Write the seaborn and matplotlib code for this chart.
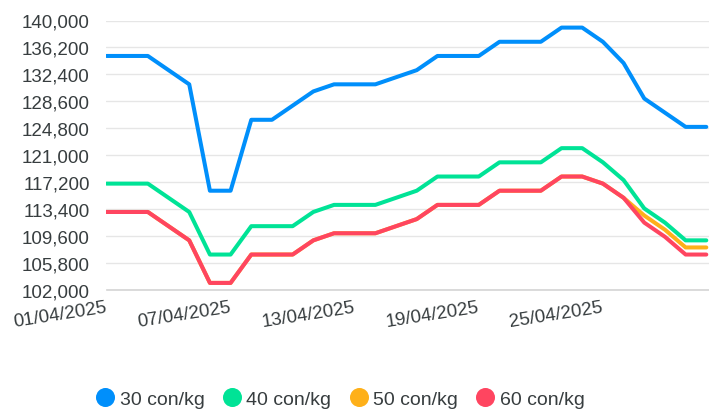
import numpy as np
import pandas as pd
import matplotlib
matplotlib.use("Agg")
import matplotlib.pyplot as plt
from matplotlib.lines import Line2D
import seaborn as sns

# ---------------- data ----------------
dates = [f"{d:02d}/04/2025" for d in range(1, 31)]

s30 = [135000, 135000, 135000, 133000, 131000, 116000, 116000, 126000, 126000, 128000,
       130000, 131000, 131000, 131000, 132000, 133000, 135000, 135000, 135000, 137000,
       137000, 137000, 139000, 139000, 137000, 134000, 129000, 127000, 125000, 125000]
s40 = [117000, 117000, 117000, 115000, 113000, 107000, 107000, 111000, 111000, 111000,
       113000, 114000, 114000, 114000, 115000, 116000, 118000, 118000, 118000, 120000,
       120000, 120000, 122000, 122000, 120000, 117500, 113500, 111500, 109000, 109000]
s50 = [113000, 113000, 113000, 111000, 109000, 103000, 103000, 107000, 107000, 107000,
       109000, 110000, 110000, 110000, 111000, 112000, 114000, 114000, 114000, 116000,
       116000, 116000, 118000, 118000, 117000, 115000, 112500, 110500, 108000, 108000]
s60 = [113000, 113000, 113000, 111000, 109000, 103000, 103000, 107000, 107000, 107000,
       109000, 110000, 110000, 110000, 111000, 112000, 114000, 114000, 114000, 116000,
       116000, 116000, 118000, 118000, 117000, 115000, 111500, 109500, 107000, 107000]

series_names = ["30 con/kg", "40 con/kg", "50 con/kg", "60 con/kg"]
colors = ["#008FFB", "#00E396", "#FEB019", "#FF4560"]

y_ticks = [102000, 105800, 109600, 113400, 117200, 121000, 124800, 128600, 132400, 136200, 140000]
y_tick_labels = ["102,000", "105,800", "109,600", "113,400", "117,200", "121,000",
                 "124,800", "128,600", "132,400", "136,200", "140,000"]
x_tick_labels = ["01/04/2025", "07/04/2025", "13/04/2025", "19/04/2025", "25/04/2025"]

# ---------------- table ----------------
dt = pd.to_datetime(dates, format="%d/%m/%Y")
frames = []
for name, vals in zip(series_names, [s30, s40, s50, s60]):
    frames.append(pd.DataFrame({"date": dt, "price": vals, "series": name}))
df = pd.concat(frames, ignore_index=True)

# ---------------- style ----------------
sns.set_style("white")
plt.rcParams["font.family"] = ["Liberation Sans", "DejaVu Sans"]
text_color = "#373d3f"

W, H = 709, 410
fig = plt.figure(figsize=(W / 100, H / 100), dpi=100)
left, right, top, bottom = 106.5, 709, 21.5, 291
ax = fig.add_axes([left / W, 1 - bottom / H, (right - left) / W, (bottom - top) / H])

sns.lineplot(data=df, x="date", y="price", hue="series", hue_order=series_names,
             palette=colors, linewidth=2.9, ax=ax, legend=False, sort=False)
for ln in ax.lines:
    ln.set_solid_joinstyle("round")
    ln.set_solid_capstyle("round")

ax.set_ylim(102000, 140000)
x0 = dt[0]
ax.set_xlim(x0, x0 + pd.Timedelta(days=29.13))
ax.set_yticks(y_ticks)
ax.set_yticklabels(y_tick_labels)
tick_pos = pd.to_datetime(x_tick_labels, format="%d/%m/%Y")
ax.set_xticks(tick_pos)
ax.set_xticklabels(x_tick_labels)

ax.set_xlabel("")
ax.set_ylabel("")
ax.yaxis.grid(True, color="#e6e6e6", linewidth=1.0)
ax.xaxis.grid(False)
for s in ["top", "right", "left"]:
    ax.spines[s].set_visible(False)
ax.spines["bottom"].set_color("#d4d4d4")
ax.spines["bottom"].set_linewidth(1.2)

ax.tick_params(axis="y", length=0, pad=12, labelsize=13.5, labelcolor=text_color)
ax.tick_params(axis="x", length=0, pad=12, labelsize=13.5, labelcolor=text_color)
for lab in ax.get_xticklabels():
    lab.set_rotation(9)
    lab.set_rotation_mode("anchor")
    lab.set_ha("right")
    lab.set_va("center")

handles = [Line2D([], [], marker="o", ls="", markersize=13.7, markerfacecolor=c,
                  markeredgewidth=0, color=c) for c in colors]
fig.legend(handles, series_names, loc="center", bbox_to_anchor=(340 / W, 1 - 400 / H),
           ncol=4, frameon=False, fontsize=14, handlelength=1.0, handletextpad=0.25,
           columnspacing=0.9, labelcolor=text_color, borderaxespad=0, borderpad=0)

fig.savefig("out.png", dpi=100)
